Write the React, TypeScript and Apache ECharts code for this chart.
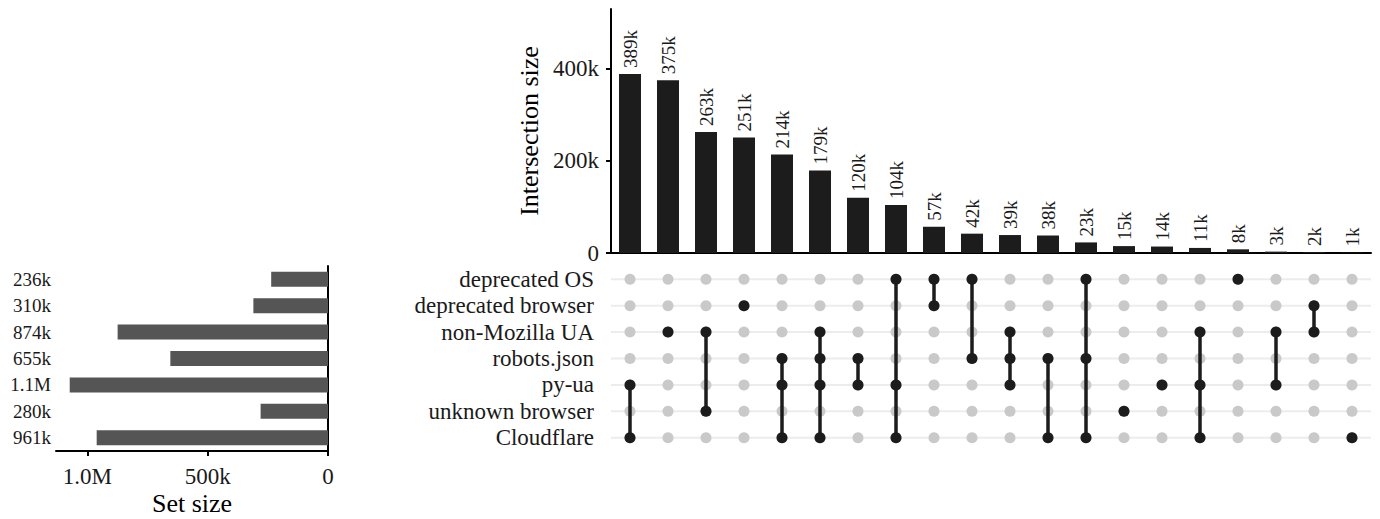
import React, { useEffect, useRef } from "react";
import * as echarts from "echarts";

const setNames = [
  "deprecated OS",
  "deprecated browser",
  "non-Mozilla UA",
  "robots.json",
  "py-ua",
  "unknown browser",
  "Cloudflare",
];
const setSizes = [236000, 310000, 874000, 655000, 1073000, 280000, 961000];
const setSizeLabels = ["236k", "310k", "874k", "655k", "1.1M", "280k", "961k"];

const intersectionSizes = [
  389000, 375000, 263000, 251000, 214000, 179000, 120000, 104000, 57000, 42000,
  39000, 38000, 23000, 15000, 14000, 11000, 8000, 3000, 2000, 1000,
];
const intersectionLabels = [
  "389k", "375k", "263k", "251k", "214k", "179k", "120k", "104k", "57k", "42k",
  "39k", "38k", "23k", "15k", "14k", "11k", "8k", "3k", "2k", "1k",
];
const intersectionMembers: string[][] = [
  ["py-ua", "Cloudflare"],
  ["non-Mozilla UA"],
  ["non-Mozilla UA", "unknown browser"],
  ["deprecated browser"],
  ["robots.json", "py-ua", "Cloudflare"],
  ["non-Mozilla UA", "robots.json", "py-ua", "Cloudflare"],
  ["robots.json", "py-ua"],
  ["deprecated OS", "py-ua", "Cloudflare"],
  ["deprecated OS", "deprecated browser"],
  ["deprecated OS", "robots.json"],
  ["non-Mozilla UA", "robots.json", "py-ua"],
  ["robots.json", "Cloudflare"],
  ["deprecated OS", "robots.json", "Cloudflare"],
  ["unknown browser"],
  ["py-ua"],
  ["non-Mozilla UA", "py-ua", "Cloudflare"],
  ["deprecated OS"],
  ["non-Mozilla UA", "py-ua"],
  ["deprecated browser", "non-Mozilla UA"],
  ["Cloudflare"],
];

const intersectionTicks = [0, 200000, 400000];
const setSizeTicks = [0, 500000, 1000000];

const FONT = '"Liberation Serif", "Times New Roman", serif';

export default function App() {
  const ref = useRef<HTMLDivElement>(null);

  useEffect(() => {
    if (!ref.current) return;
    const chart = echarts.init(ref.current, undefined, { renderer: "svg" });

    const cols = intersectionSizes.map((_, i) => String(i));

    const grayDots: number[][] = [];
    const blackDots: number[][] = [];
    const segments: number[][] = [];
    intersectionMembers.forEach((members, c) => {
      const rows = members.map((m) => setNames.indexOf(m));
      setNames.forEach((_, r) => {
        grayDots.push([c, r]);
      });
      rows.forEach((r) => blackDots.push([c, r]));
      if (rows.length > 1) {
        segments.push([c, Math.min(...rows), Math.max(...rows)]);
      }
    });

    const option: any = {
      animation: false,
      textStyle: { fontFamily: FONT, color: "#000" },
      grid: [
        { left: 611, right: 9, top: 9, bottom: 266 },
        { left: 611, right: 9, top: 266, height: 185 },
        { left: 56, width: 272, top: 266, height: 185 },
      ],
      xAxis: [
        {
          type: "category",
          gridIndex: 0,
          data: cols,
          axisLine: { lineStyle: { color: "#000", width: 2 } },
          axisTick: { show: false },
          axisLabel: { show: false },
        },
        {
          type: "category",
          gridIndex: 1,
          data: cols,
          show: false,
        },
        {
          type: "value",
          gridIndex: 2,
          inverse: true,
          min: 0,
          max: 1130000,
          axisLine: { show: true, lineStyle: { color: "#000", width: 2 } },
          axisTick: {
            show: true,
            length: 5,
            lineStyle: { color: "#000", width: 2 },
            customValues: setSizeTicks,
          },
          axisLabel: {
            fontSize: 23,
            fontFamily: FONT,
            color: "#1a1a1a",
            margin: 14,
            customValues: setSizeTicks,
            formatter: (v: number) =>
              v >= 1000000 ? (v / 1000000).toFixed(1) + "M" : v === 0 ? "0" : v / 1000 + "k",
          },
          splitLine: { show: false },
          name: "Set size",
          nameLocation: "middle",
          nameGap: 39,
          nameTextStyle: { fontSize: 26, fontFamily: FONT, color: "#000" },
        },
      ],
      yAxis: [
        {
          type: "value",
          gridIndex: 0,
          min: 0,
          max: 530000,
          axisLine: { show: true, lineStyle: { color: "#000", width: 2 } },
          axisTick: {
            show: true,
            length: 5,
            lineStyle: { color: "#000", width: 2 },
            customValues: intersectionTicks,
          },
          axisLabel: {
            fontSize: 23,
            fontFamily: FONT,
            color: "#1a1a1a",
            margin: 12,
            customValues: intersectionTicks,
            formatter: (v: number) => (v === 0 ? "0" : v / 1000 + "k"),
          },
          splitLine: { show: false },
          name: "Intersection size",
          nameLocation: "middle",
          nameGap: 64,
          nameTextStyle: { fontSize: 26, fontFamily: FONT, color: "#000" },
        },
        {
          type: "category",
          gridIndex: 1,
          data: setNames,
          inverse: true,
          axisLine: { show: false },
          axisTick: { show: false },
          axisLabel: {
            interval: 0,
            fontSize: 23,
            fontFamily: FONT,
            color: "#1a1a1a",
            margin: 17,
          },
        },
        {
          type: "category",
          gridIndex: 2,
          data: setSizeLabels,
          inverse: true,
          axisLine: { show: true, lineStyle: { color: "#000", width: 2 } },
          axisTick: { show: false },
          axisLabel: {
            interval: 0,
            fontSize: 19,
            fontFamily: FONT,
            color: "#1a1a1a",
            margin: 5,
          },
        },
      ],
      series: [
        {
          type: "bar",
          xAxisIndex: 0,
          yAxisIndex: 0,
          data: intersectionSizes,
          barWidth: 22,
          itemStyle: { color: "#1c1c1c" },
          label: {
            show: true,
            position: "top",
            rotate: 90,
            align: "left",
            verticalAlign: "middle",
            distance: 6,
            fontSize: 19,
            fontFamily: FONT,
            color: "#1a1a1a",
            formatter: (p: any) => intersectionLabels[p.dataIndex],
          },
        },
        {
          type: "custom",
          xAxisIndex: 1,
          yAxisIndex: 1,
          silent: true,
          data: setNames.map((_, i) => [0, i]),
          encode: { x: 0, y: 1 },
          renderItem: (params: any, api: any) => {
            const pt = api.coord([0, api.value(1)]);
            const cs = params.coordSys;
            return {
              type: "rect",
              shape: { x: cs.x, y: pt[1] - 1, width: cs.width, height: 2 },
              style: { fill: "#ececec" },
            };
          },
          z: 1,
        },
        {
          type: "scatter",
          xAxisIndex: 1,
          yAxisIndex: 1,
          data: grayDots,
          symbolSize: 11,
          itemStyle: { color: "#c9c9c9", opacity: 1 },
          silent: true,
          z: 2,
        },
        {
          type: "custom",
          xAxisIndex: 1,
          yAxisIndex: 1,
          silent: true,
          data: segments,
          encode: { x: 0, y: [1, 2] },
          renderItem: (params: any, api: any) => {
            const p1 = api.coord([api.value(0), api.value(1)]);
            const p2 = api.coord([api.value(0), api.value(2)]);
            return {
              type: "line",
              shape: { x1: p1[0], y1: p1[1], x2: p2[0], y2: p2[1] },
              style: { stroke: "#1c1c1c", lineWidth: 3.5 },
            };
          },
          z: 3,
        },
        {
          type: "scatter",
          xAxisIndex: 1,
          yAxisIndex: 1,
          data: blackDots,
          symbolSize: 11,
          itemStyle: { color: "#1c1c1c", opacity: 1 },
          silent: true,
          z: 4,
        },
        {
          type: "bar",
          xAxisIndex: 2,
          yAxisIndex: 2,
          data: setSizes,
          barWidth: 15,
          itemStyle: { color: "#555555" },
        },
      ],
    };

    chart.setOption(option);
    return () => chart.dispose();
  }, []);

  return (
    <div
      ref={ref}
      style={{ position: "fixed", left: 0, top: 0, width: 1380, height: 519, background: "#fff" }}
    />
  );
}
